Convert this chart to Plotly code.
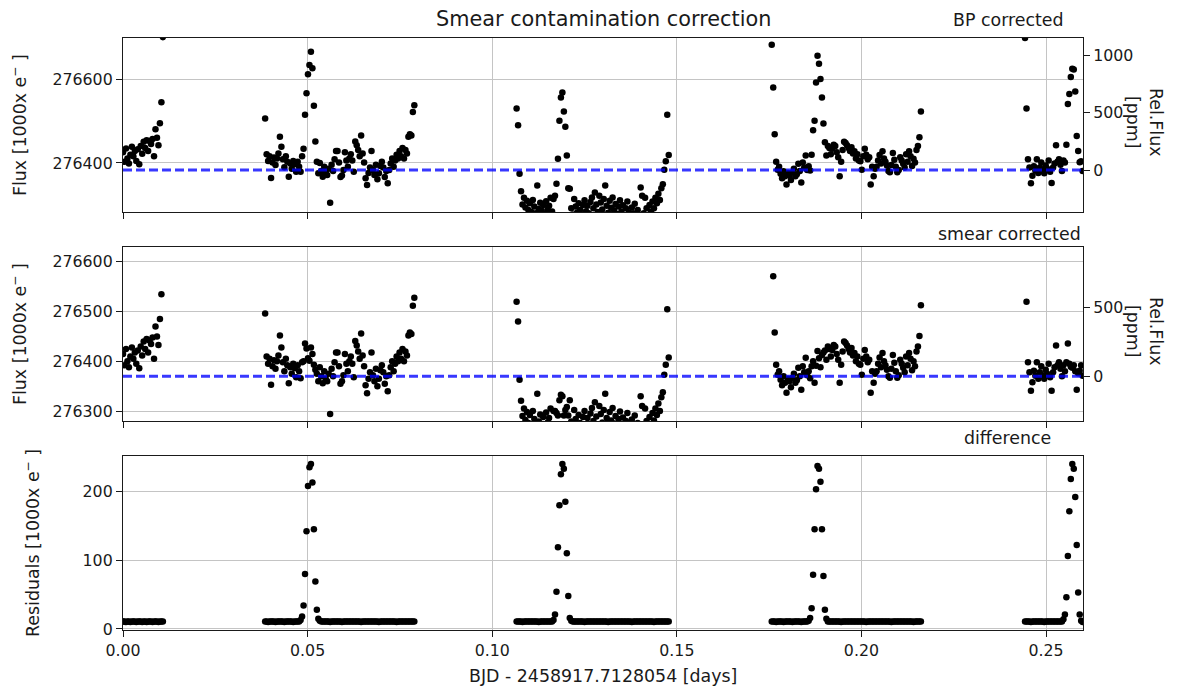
import numpy as np
import plotly.graph_objects as go

# ---------------- data ----------------
# time in days since BJD 2458917.7128054, one list per CHEOPS orbit visit
time_orbit1 = [0.0000, 0.0004, 0.0008, 0.0012, 0.0016, 0.0020, 0.0024, 0.0028, 0.0032, 0.0036,
               0.0040, 0.0044, 0.0048, 0.0052, 0.0056, 0.0060, 0.0064, 0.0068, 0.0072, 0.0076,
               0.0080, 0.0084, 0.0088, 0.0092, 0.0096, 0.0100, 0.0104, 0.0108]
time_orbit2 = [0.0385, 0.0389, 0.0393, 0.0397, 0.0401, 0.0405, 0.0409, 0.0413, 0.0417, 0.0421,
               0.0425, 0.0429, 0.0433, 0.0437, 0.0441, 0.0445, 0.0449, 0.0453, 0.0457, 0.0461,
               0.0465, 0.0469, 0.0473, 0.0477, 0.0481, 0.0485, 0.0489, 0.0493, 0.0497, 0.0501,
               0.0505, 0.0509, 0.0513, 0.0517, 0.0521, 0.0525, 0.0529, 0.0533, 0.0537, 0.0541,
               0.0545, 0.0549, 0.0553, 0.0557, 0.0561, 0.0565, 0.0569, 0.0573, 0.0577, 0.0581,
               0.0585, 0.0589, 0.0593, 0.0597, 0.0601, 0.0605, 0.0609, 0.0613, 0.0617, 0.0621,
               0.0625, 0.0629, 0.0633, 0.0637, 0.0641, 0.0645, 0.0649, 0.0653, 0.0657, 0.0661,
               0.0665, 0.0669, 0.0673, 0.0677, 0.0681, 0.0685, 0.0689, 0.0693, 0.0697, 0.0701,
               0.0705, 0.0709, 0.0713, 0.0717, 0.0721, 0.0725, 0.0729, 0.0733, 0.0737, 0.0741,
               0.0745, 0.0749, 0.0753, 0.0757, 0.0761, 0.0765, 0.0769, 0.0773, 0.0777, 0.0781,
               0.0785, 0.0789]
time_orbit3 = [0.1066, 0.1070, 0.1074, 0.1078, 0.1082, 0.1086, 0.1090, 0.1094, 0.1098, 0.1102,
               0.1106, 0.1110, 0.1114, 0.1118, 0.1122, 0.1126, 0.1130, 0.1134, 0.1138, 0.1142,
               0.1146, 0.1150, 0.1154, 0.1158, 0.1162, 0.1166, 0.1170, 0.1174, 0.1178, 0.1182,
               0.1186, 0.1190, 0.1194, 0.1198, 0.1202, 0.1206, 0.1210, 0.1214, 0.1218, 0.1222,
               0.1226, 0.1230, 0.1234, 0.1238, 0.1242, 0.1246, 0.1250, 0.1254, 0.1258, 0.1262,
               0.1266, 0.1270, 0.1274, 0.1278, 0.1282, 0.1286, 0.1290, 0.1294, 0.1298, 0.1302,
               0.1306, 0.1310, 0.1314, 0.1318, 0.1322, 0.1326, 0.1330, 0.1334, 0.1338, 0.1342,
               0.1346, 0.1350, 0.1354, 0.1358, 0.1362, 0.1366, 0.1370, 0.1374, 0.1378, 0.1382,
               0.1386, 0.1390, 0.1394, 0.1398, 0.1402, 0.1406, 0.1410, 0.1414, 0.1418, 0.1422,
               0.1426, 0.1430, 0.1434, 0.1438, 0.1442, 0.1446, 0.1450, 0.1454, 0.1458, 0.1462,
               0.1466, 0.1470, 0.1474, 0.1478]
time_orbit4 = [0.1757, 0.1761, 0.1765, 0.1769, 0.1773, 0.1777, 0.1781, 0.1785, 0.1789, 0.1793,
               0.1797, 0.1801, 0.1805, 0.1809, 0.1813, 0.1817, 0.1821, 0.1825, 0.1829, 0.1833,
               0.1837, 0.1841, 0.1845, 0.1849, 0.1853, 0.1857, 0.1861, 0.1865, 0.1869, 0.1873,
               0.1877, 0.1881, 0.1885, 0.1889, 0.1893, 0.1897, 0.1901, 0.1905, 0.1909, 0.1913,
               0.1917, 0.1921, 0.1925, 0.1929, 0.1933, 0.1937, 0.1941, 0.1945, 0.1949, 0.1953,
               0.1957, 0.1961, 0.1965, 0.1969, 0.1973, 0.1977, 0.1981, 0.1985, 0.1989, 0.1993,
               0.1997, 0.2001, 0.2005, 0.2009, 0.2013, 0.2017, 0.2021, 0.2025, 0.2029, 0.2033,
               0.2037, 0.2041, 0.2045, 0.2049, 0.2053, 0.2057, 0.2061, 0.2065, 0.2069, 0.2073,
               0.2077, 0.2081, 0.2085, 0.2089, 0.2093, 0.2097, 0.2101, 0.2105, 0.2109, 0.2113,
               0.2117, 0.2121, 0.2125, 0.2129, 0.2133, 0.2137, 0.2141, 0.2145, 0.2149, 0.2153,
               0.2157, 0.2161]
time_orbit5 = [0.2443, 0.2447, 0.2451, 0.2455, 0.2459, 0.2463, 0.2467, 0.2471, 0.2475, 0.2479,
               0.2483, 0.2487, 0.2491, 0.2495, 0.2499, 0.2503, 0.2507, 0.2511, 0.2515, 0.2519,
               0.2523, 0.2527, 0.2531, 0.2535, 0.2539, 0.2543, 0.2547, 0.2551, 0.2555, 0.2559,
               0.2563, 0.2567, 0.2571, 0.2575, 0.2579, 0.2583, 0.2587, 0.2591, 0.2595, 0.2599]

# smear-corrected flux [1000 e-]
flux_sc_orbit1 = [276415, 276392, 276425, 276400, 276388, 276410, 276428, 276405, 276418, 276395,
                  276422, 276386, 276430, 276412, 276440, 276425, 276445, 276418, 276442, 276435,
                  276448, 276405, 276470, 276450, 276433, 276485, 276535, 276692]
flux_sc_orbit2 = [276496, 276410, 276395, 276405, 276353, 276390, 276402, 276385, 276400, 276412,
                  276452, 276428, 276398, 276380, 276405, 276392, 276356, 276388, 276375, 276395,
                  276386, 276368, 276392, 276380, 276366, 276398, 276400, 276436, 276426, 276406,
                  276401, 276428, 276415, 276393, 276383, 276375, 276360, 276388, 276370, 276356,
                  276380, 276365, 276360, 276375, 276294, 276385, 276370, 276398, 276418, 276418,
                  276390, 276355, 276360, 276372, 276415, 276395, 276380, 276400, 276410, 276395,
                  276368, 276441, 276432, 276420, 276405, 276456, 276412, 276390, 276352, 276336,
                  276365, 276378, 276418, 276372, 276360, 276385, 276350, 276365, 276382, 276392,
                  276378, 276355, 276370, 276340, 276372, 276388, 276400, 276380, 276395, 276410,
                  276400, 276418, 276405, 276425, 276400, 276420, 276412, 276452, 276458, 276455,
                  276512, 276528]
flux_sc_orbit3 = [276520, 276480, 276363, 276321, 276290, 276305, 276282, 276298, 276276, 276292,
                  276271, 276300, 276284, 276268, 276335, 276279, 276293, 276274, 276288, 276266,
                  276297, 276277, 276286, 276305, 276272, 276300, 276300, 276296, 276291, 276322,
                  276333, 276330, 276291, 276302, 276308, 276291, 276322, 276279, 276265, 276302,
                  276284, 276270, 276292, 276276, 276262, 276288, 276300, 276273, 276286, 276268,
                  276295, 276306, 276280, 276318, 276289, 276271, 276310, 276294, 276277, 276302,
                  276335, 276286, 276270, 276298, 276281, 276306, 276275, 276290, 276266, 276284,
                  276299, 276272, 276287, 276263, 276280, 276296, 276270, 276258, 276283, 276268,
                  276291, 276262, 276276, 276255, 276330, 276310, 276268, 276305, 276280, 276260,
                  276288, 276272, 276296, 276281, 276305, 276292, 276315, 276300, 276328, 276338,
                  276373, 276393, 276505, 276408]
flux_sc_orbit4 = [276674, 276571, 276458, 276393, 276373, 276380, 276363, 276352, 276370, 276357,
                  276337, 276365, 276360, 276348, 276367, 276375, 276357, 276362, 276387, 276370,
                  276343, 276390, 276378, 276407, 276372, 276380, 276366, 276390, 276400, 276357,
                  276391, 276421, 276406, 276388, 276413, 276418, 276422, 276403, 276430, 276425,
                  276410, 276423, 276433, 276430, 276415, 276403, 276357, 276393, 276420, 276440,
                  276437, 276432, 276425, 276418, 276427, 276412, 276417, 276400, 276410, 276395,
                  276393, 276373, 276405, 276423, 276410, 276398, 276403, 276337, 276380, 276357,
                  276375, 276380, 276395, 276408, 276388, 276417, 276400, 276392, 276383, 276370,
                  276367, 276385, 276413, 276397, 276380, 276367, 276372, 276403, 276395, 276387,
                  276378, 276410, 276392, 276417, 276405, 276382, 276400, 276390, 276420, 276430,
                  276451, 276513]
flux_sc_orbit5 = [276690, 276520, 276398, 276378, 276341, 276358, 276381, 276371, 276398, 276365,
                  276378, 276390, 276372, 276365, 276383, 276375, 276395, 276368, 276341, 276378,
                  276388, 276432, 276392, 276398, 276385, 276370, 276392, 276380, 276398, 276436,
                  276395, 276389, 276387, 276392, 276380, 276343, 276376, 276381, 276392, 276371]

# difference (smear contamination) = BP corrected - smear corrected [1000 e-]
resid_orbit1 = [11, 11, 10, 11, 11, 10, 11, 11, 11, 10,
                11, 11, 11, 10, 11, 11, 10, 11, 11, 11,
                10, 11, 11, 11, 10, 11, 11, 11]
resid_orbit2 = [11, 11, 10, 11, 11, 11, 11, 10, 11, 11,
                11, 11, 11, 10, 11, 11, 11, 11, 11, 10,
                11, 11, 11, 11, 13, 18, 34, 80, 142, 208,
                235, 240, 213, 145, 69, 28, 15, 12, 11, 11,
                11, 11, 11, 11, 10, 11, 11, 11, 11, 11,
                11, 11, 10, 11, 11, 11, 11, 11, 11, 11,
                11, 11, 11, 11, 11, 10, 11, 11, 11, 11,
                11, 11, 11, 11, 11, 11, 11, 10, 11, 11,
                11, 11, 11, 11, 11, 11, 11, 11, 11, 10,
                11, 11, 11, 11, 11, 11, 11, 11, 11, 11,
                11, 11]
resid_orbit3 = [11, 11, 11, 11, 10, 11, 11, 11, 11, 11,
                11, 11, 11, 11, 11, 10, 11, 11, 11, 11,
                11, 11, 11, 11, 11, 13, 21, 54, 119, 180,
                225, 240, 233, 185, 110, 48, 16, 12, 11, 11,
                11, 11, 11, 11, 11, 11, 10, 11, 11, 11,
                11, 11, 11, 11, 11, 11, 11, 11, 11, 11,
                11, 11, 10, 11, 11, 11, 11, 11, 11, 11,
                11, 11, 11, 11, 11, 11, 11, 11, 10, 11,
                11, 11, 11, 11, 11, 11, 11, 11, 11, 11,
                11, 11, 11, 10, 11, 11, 11, 11, 11, 11,
                11, 11, 11, 11]
resid_orbit4 = [11, 11, 11, 10, 11, 11, 11, 11, 10, 11,
                11, 11, 11, 11, 10, 11, 11, 11, 11, 11,
                10, 11, 11, 11, 11, 12, 16, 30, 79, 145,
                203, 237, 233, 214, 145, 77, 28, 15, 11, 11,
                11, 11, 11, 11, 11, 11, 11, 10, 11, 11,
                11, 11, 11, 11, 11, 11, 11, 11, 11, 11,
                11, 11, 11, 11, 10, 11, 11, 11, 11, 11,
                11, 11, 11, 11, 11, 11, 11, 11, 11, 11,
                11, 10, 11, 11, 11, 11, 11, 11, 11, 11,
                11, 11, 11, 11, 11, 11, 10, 11, 11, 11,
                11, 11]
resid_orbit5 = [11, 11, 11, 11, 10, 11, 11, 11, 11, 11,
                11, 11, 11, 10, 11, 11, 11, 11, 11, 11,
                11, 11, 11, 11, 11, 11, 14, 21, 46, 106,
                171, 218, 240, 233, 192, 122, 53, 21, 12, 10]

# reference (mean) levels drawn as dashed lines [1000 e-]
BP_LEVEL = 276383.0
SC_LEVEL = 276370.0

# axis limits
X_RANGE = [0.0, 0.26]
BP_RANGE = [276282.0, 276701.0]
SC_RANGE = [276280.0, 276630.0]
RES_RANGE = [-1.5, 251.5]

# ---------------- assemble ----------------
time = np.concatenate([time_orbit1, time_orbit2, time_orbit3, time_orbit4, time_orbit5])
flux_sc = np.concatenate([flux_sc_orbit1, flux_sc_orbit2, flux_sc_orbit3, flux_sc_orbit4, flux_sc_orbit5]).astype(float)
resid = np.concatenate([resid_orbit1, resid_orbit2, resid_orbit3, resid_orbit4, resid_orbit5]).astype(float)
assert len(time) == len(flux_sc) == len(resid)
flux_bp = flux_sc + resid


def to_ppm(v, level):
    return (np.asarray(v, dtype=float) - level) / level * 1e6


FONT = "DejaVu Sans"
TXT = "#1a1a1a"
AX = "#1a1a1a"
GRID = "#c4c4c4"
FS = 17.4      # axis labels / panel labels
TFS = 15.8     # tick labels

fig = go.Figure()
mk = dict(color="black", size=6.5)
fig.add_trace(go.Scatter(x=time, y=flux_bp, mode="markers", marker=mk, xaxis="x", yaxis="y",
                         showlegend=False, cliponaxis=True))
fig.add_trace(go.Scatter(x=time, y=to_ppm(flux_bp, BP_LEVEL), mode="markers",
                         marker=dict(color="rgba(0,0,0,0)", size=1), xaxis="x", yaxis="y4",
                         showlegend=False, hoverinfo="skip"))
fig.add_trace(go.Scatter(x=time, y=flux_sc, mode="markers", marker=mk, xaxis="x2", yaxis="y2",
                         showlegend=False, cliponaxis=True))
fig.add_trace(go.Scatter(x=time, y=to_ppm(flux_sc, SC_LEVEL), mode="markers",
                         marker=dict(color="rgba(0,0,0,0)", size=1), xaxis="x2", yaxis="y5",
                         showlegend=False, hoverinfo="skip"))
fig.add_trace(go.Scatter(x=time, y=resid, mode="markers", marker=mk, xaxis="x3", yaxis="y3",
                         showlegend=False, cliponaxis=True))

dash_line = dict(color="rgba(0,0,255,0.78)", width=3, dash="9px,4px")
fig.add_shape(type="line", xref="x domain", x0=0, x1=1, yref="y", y0=BP_LEVEL, y1=BP_LEVEL,
              line=dash_line, layer="above")
fig.add_shape(type="line", xref="x2 domain", x0=0, x1=1, yref="y2", y0=SC_LEVEL, y1=SC_LEVEL,
              line=dash_line, layer="above")

tickfont = dict(family=FONT, size=TFS, color=TXT)
base_x = dict(range=X_RANGE, showgrid=True, gridcolor=GRID, gridwidth=1.2, showline=True,
              linecolor=AX, linewidth=1.3, mirror=True, ticks="outside", ticklen=6, tickwidth=1.3,
              tickcolor=AX, tick0=0, dtick=0.05, zeroline=False, tickformat=".2f", tickfont=tickfont)
base_y = dict(showgrid=True, gridcolor=GRID, gridwidth=1.2, showline=True, linecolor=AX,
              linewidth=1.3, mirror=True, ticks="outside", ticklen=6, tickwidth=1.3, tickcolor=AX,
              tick0=0, zeroline=False, tickformat="d", tickfont=tickfont)
right_y = dict(side="right", showgrid=False, showline=False, ticks="outside", ticklen=6,
               tickwidth=1.3, tickcolor=AX, tick0=0, dtick=500, zeroline=False, tickformat="d",
               tickfont=tickfont)

D1 = [0.7061, 1.0]
D2 = [0.3530, 0.6470]
D3 = [0.0, 0.2939]

fig.update_layout(
    width=1199, height=690,
    margin=dict(l=123, r=116, t=38, b=60),
    paper_bgcolor="white", plot_bgcolor="white",
    font=dict(family=FONT, size=FS, color=TXT),
    showlegend=False,
    xaxis=dict(base_x, anchor="y", showticklabels=False),
    xaxis2=dict(base_x, anchor="y2", showticklabels=False),
    xaxis3=dict(base_x, anchor="y3", showticklabels=True),
    yaxis=dict(base_y, domain=D1, range=BP_RANGE, dtick=200, anchor="x"),
    yaxis2=dict(base_y, domain=D2, range=SC_RANGE, dtick=100, anchor="x2"),
    yaxis3=dict(base_y, domain=D3, range=RES_RANGE, dtick=100, anchor="x3"),
    yaxis4=dict(right_y, overlaying="y", anchor="x", range=list(to_ppm(BP_RANGE, BP_LEVEL))),
    yaxis5=dict(right_y, overlaying="y2", anchor="x2", range=list(to_ppm(SC_RANGE, SC_LEVEL))),
)

PLOT_L, PLOT_W, PLOT_B, PLOT_H = 123.0, 960.0, 630.0, 592.0


def px(xp):
    return (xp - PLOT_L) / PLOT_W


def py(yp):
    return (PLOT_B - yp) / PLOT_H


def note(text, xp, yp, size=FS, xanchor="center", angle=0):
    fig.add_annotation(text=text, x=px(xp), y=py(yp), xref="paper", yref="paper",
                       showarrow=False, xanchor=xanchor, yanchor="middle", textangle=angle,
                       font=dict(family=FONT, size=size, color=TXT))


note("Smear contamination correction", 603, 19, size=20.8)
note("BP corrected", 1066, 20, xanchor="right")
note("smear corrected", 1083, 234, xanchor="right")
note("difference", 1053, 438, xanchor="right")
note("BJD - 2458917.7128054 [days]", 603, 676)

ylab = "Flux [1000x e<sup>\u2212</sup> ]"
note(ylab, 19, 125, angle=-90)
note(ylab, 19, 334, angle=-90)
note("Residuals [1000x e<sup>\u2212</sup> ]", 32, 543, angle=-90)
note("Rel.Flux<br>[ppm]", 1145, 122, angle=90)
note("Rel.Flux<br>[ppm]", 1145, 331, angle=90)

fig.write_html("out.html")
